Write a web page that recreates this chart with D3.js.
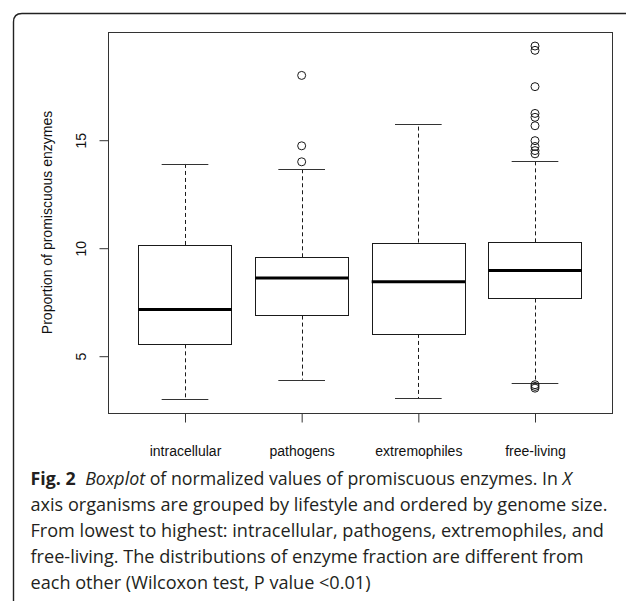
<!DOCTYPE html>
<html>
<head>
<meta charset="utf-8">
<script src="https://cdn.jsdelivr.net/npm/d3@7"></script>
<style>
  html, body { margin: 0; padding: 0; background: #fff; }
  svg { display: block; }
</style>
</head>
<body>
<svg id="chart" width="626" height="601"></svg>
<script>
// ---- data ----
const categories = ["intracellular", "pathogens", "extremophiles", "free-living"];
const whiskerLow  = [3.02, 3.91, 3.06, 3.74];
const q1          = [5.55, 6.88, 6.03, 7.67];
const medians     = [7.16, 8.62, 8.45, 8.97];
const q3          = [10.15, 9.58, 10.26, 10.27];
const whiskerHigh = [13.91, 13.65, 15.75, 14.02];
const outliersIntracellular = [];
const outliersPathogens = [18.0, 14.74, 14.0];
const outliersExtremophiles = [];
const outliersFreeLiving = [19.36, 19.16, 17.48, 16.24, 16.06, 15.67, 14.98, 14.71, 14.52, 14.37, 3.68, 3.6, 3.52];
const yTicks = [5, 10, 15];
const yLabel = "Proportion of promiscuous enzymes";
const captionLines = [
  [{t: "Fig. 2", w: "bold"}, {t: "Boxplot", s: "italic", gap: true}, {t: " of normalized values of promiscuous enzymes. In "}, {t: "X", s: "italic"}],
  [{t: "axis organisms are grouped by lifestyle and ordered by genome size."}],
  [{t: "From lowest to highest: intracellular, pathogens, extremophiles, and"}],
  [{t: "free-living. The distributions of enzyme fraction are different from"}],
  [{t: "each other (Wilcoxon test, P value <0.01)"}]
];

const outliers = [outliersIntracellular, outliersPathogens, outliersExtremophiles, outliersFreeLiving];
const boxes = categories.map((c, i) => ({
  cat: c, i: i + 1, lo: whiskerLow[i], q1: q1[i], med: medians[i], q3: q3[i], hi: whiskerHigh[i], out: outliers[i]
}));

const svg = d3.select("#chart");
const plotL = 108, plotR = 612, plotT = 32, plotB = 413;
const x = d3.scaleLinear().domain([0.34, 4.66]).range([plotL, plotR]);
const y = d3.scaleLinear().domain([2.37, 20.01]).range([plotB, plotT]);
const boxW = x(0.8) - x(0);
const capW = x(0.4) - x(0);
const ink = "#1a1a1a";
const px = v => Math.round(v) + 0.5;

// outer figure frame (rounded top-left)
svg.append("path")
  .attr("d", "M13.5,601 L13.5,22 Q13.5,13.5 22,13.5 L626,13.5")
  .attr("fill", "none").attr("stroke", "#222").attr("stroke-width", 1.4);

// plot frame
svg.append("rect")
  .attr("x", px(plotL)).attr("y", px(plotT))
  .attr("width", Math.round(plotR - plotL)).attr("height", Math.round(plotB - plotT))
  .attr("fill", "none").attr("stroke", "#333").attr("stroke-width", 1);

const g = svg.append("g");
boxes.forEach(b => {
  const cx = px(x(b.i));
  // whiskers (dashed)
  g.append("line").attr("x1", cx).attr("x2", cx).attr("y1", y(b.q3)).attr("y2", y(b.hi))
    .attr("stroke", ink).attr("stroke-dasharray", "4,3");
  g.append("line").attr("x1", cx).attr("x2", cx).attr("y1", y(b.q1)).attr("y2", y(b.lo))
    .attr("stroke", ink).attr("stroke-dasharray", "4,3");
  // caps
  [b.hi, b.lo].forEach(v => {
    g.append("line").attr("x1", x(b.i) - capW / 2).attr("x2", x(b.i) + capW / 2)
      .attr("y1", px(y(v))).attr("y2", px(y(v))).attr("stroke", "#333");
  });
  // box
  g.append("rect")
    .attr("x", px(x(b.i) - boxW / 2)).attr("y", px(y(b.q3)))
    .attr("width", Math.round(boxW)).attr("height", Math.round(y(b.q1) - y(b.q3)))
    .attr("fill", "#fff").attr("stroke", ink).attr("stroke-width", 1);
  // median
  g.append("line").attr("x1", x(b.i) - boxW / 2).attr("x2", x(b.i) + boxW / 2)
    .attr("y1", y(b.med)).attr("y2", y(b.med)).attr("stroke", "#000").attr("stroke-width", 3);
  // outliers
  b.out.forEach(v => {
    g.append("circle").attr("cx", x(b.i)).attr("cy", y(v)).attr("r", 4)
      .attr("fill", "none").attr("stroke", ink).attr("stroke-width", 1);
  });
});

// y axis
const yAxis = d3.axisLeft(y).tickValues(yTicks).tickSize(9).tickFormat(d3.format("d"));
const ya = svg.append("g").attr("transform", `translate(${px(plotL)},0)`).call(yAxis);
ya.select(".domain").remove();
ya.selectAll(".tick line").attr("stroke", "#333");
ya.selectAll(".tick text")
  .attr("transform", null).attr("x", null).attr("dy", null)
  .each(function(d) {
    d3.select(this).attr("transform", `translate(${80.7 - px(plotL)},0) rotate(-90)`)
      .attr("text-anchor", "middle").attr("dy", "0.35em");
  })
  .attr("font-family", "'Liberation Sans', Arial, Helvetica, sans-serif")
  .attr("font-size", 14).attr("fill", "#111");

// x axis
const xAxis = d3.axisBottom(x).tickValues([1, 2, 3, 4]).tickSize(9).tickFormat(d => categories[d - 1]);
const xa = svg.append("g").attr("transform", `translate(0,${px(plotB)})`).call(xAxis);
xa.select(".domain").remove();
xa.selectAll(".tick line").attr("stroke", "#333");
xa.selectAll(".tick text").attr("y", 42).attr("dy", null)
  .attr("font-family", "'Liberation Sans', Arial, Helvetica, sans-serif")
  .attr("font-size", 14).attr("fill", "#111");

// y label
svg.append("text")
  .attr("transform", `translate(47,${(plotT + plotB) / 2}) rotate(-90)`)
  .attr("text-anchor", "middle").attr("dy", "0.35em")
  .attr("font-family", "'Liberation Sans', Arial, Helvetica, sans-serif")
  .attr("font-size", 14).attr("fill", "#111")
  .text(yLabel);

// caption
const capX = 30.5, capY0 = 484.5, capDy = 26.2, targetW2 = 577;
const capTexts = captionLines.map((segs, li) => {
  const t = svg.append("text")
    .attr("x", capX).attr("y", capY0 + li * capDy)
    .attr("font-family", "'Open Sans', 'Noto Sans', sans-serif")
    .attr("font-size", 18.5).attr("fill", "#231f20");
  segs.forEach(s => {
    const ts = t.append("tspan").text(s.t);
    if (s.w) ts.attr("font-weight", s.w);
    if (s.s) ts.attr("font-style", s.s);
    if (s.gap) ts.attr("dx", 10);
  });
  return t;
});
const k = targetW2 / capTexts[1].node().getComputedTextLength();
capTexts.forEach(t => {
  const w = t.node().getComputedTextLength();
  t.attr("textLength", w * k).attr("lengthAdjust", "spacingAndGlyphs");
});
</script>
</body>
</html>
